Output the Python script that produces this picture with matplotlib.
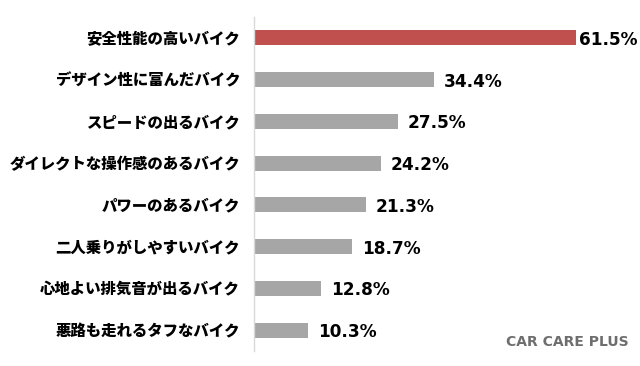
import matplotlib
matplotlib.use("Agg")
import matplotlib.pyplot as plt

categories = ["安全性能の高いバイク", "デザイン性に富んだバイク", "スピードの出るバイク",
              "ダイレクトな操作感のあるバイク", "パワーのあるバイク", "二人乗りがしやすいバイク",
              "心地よい排気音が出るバイク", "悪路も走れるタフなバイク"]
values = [61.5, 34.4, 27.5, 24.2, 21.3, 18.7, 12.8, 10.3]
value_labels = ["61.5%", "34.4%", "27.5%", "24.2%", "21.3%", "18.7%", "12.8%", "10.3%"]

plt.rcParams['font.family'] = ['Noto Sans CJK JP', 'DejaVu Sans']

fig = plt.figure(figsize=(6.4, 3.66), dpi=100)
ax = fig.add_axes([254 / 640, 15 / 366, 386 / 640, 334 / 366])

colors = ["#C0504D"] + ["#A6A6A6"] * (len(values) - 1)
pos = list(range(len(values)))
ax.barh(pos, values, height=0.36, color=colors)

ax.set_xlim(0, 386 / 5.24)
ax.set_ylim(len(values) - 0.5, -0.5)

ax.set_yticks(pos)
ax.set_yticklabels(categories, fontsize=11.1, fontweight="heavy", color="#000000")
ax.tick_params(axis="y", length=0, pad=10)
ax.set_xticks([])

for s in ["top", "right", "bottom"]:
    ax.spines[s].set_visible(False)
ax.spines["left"].set_color("#D9D9D9")
ax.spines["left"].set_linewidth(1.0)

for i, (v, lab) in enumerate(zip(values, value_labels)):
    off = 0.6 if i == 0 else 1.9
    ax.text(v + off, i + 0.05, lab, va="center", ha="left", fontsize=12.2,
            fontweight="bold", family="DejaVu Sans", color="#000000")

# watermark
fig.text(629 / 640, 1 - 342 / 366, "CAR CARE PLUS", ha="right", va="center",
         fontsize=10, fontweight="bold", family="DejaVu Sans", color="#6E6E6E")

fig.savefig("out.png", dpi=100)
